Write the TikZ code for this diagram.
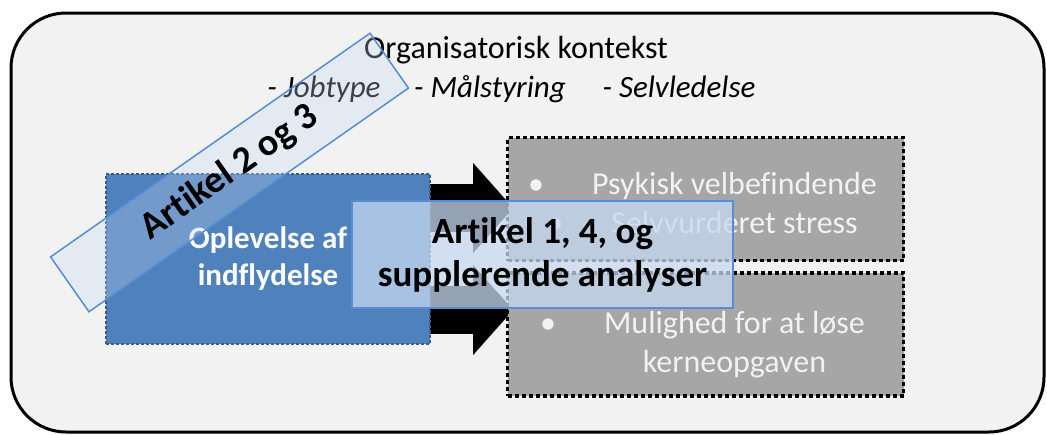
\documentclass[tikz,border=0pt]{standalone}
\usepackage{fontspec}
\setmainfont{Carlito}[Ligatures=NoCommon]
\usetikzlibrary{arrows.meta, positioning, calc}
\definecolor{ctxgray}{RGB}{242,242,242}
\definecolor{inflblue}{RGB}{79,129,189}
\definecolor{infldark}{RGB}{56,93,138}
\definecolor{outgray}{RGB}{166,166,166}
\definecolor{artfill}{RGB}{198,217,241}
\definecolor{artline}{RGB}{85,142,213}
\tikzset{
  ctxbox/.style={draw=black, line width=3pt, rounded corners=55pt, fill=ctxgray,
                 inner sep=0pt},
  ctxtext/.style={font=\fontsize{32}{38}\selectfont, inner sep=0pt, anchor=base},
  infl/.style={fill=inflblue, draw=infldark, line width=2.5pt, dash pattern=on 3pt off 2pt,
               text=white, align=center, inner sep=0pt,
               font=\fontsize{31}{37}\selectfont\bfseries},
  outcome/.style={fill=outgray, draw=black, line width=3.5pt, dash pattern=on 4pt off 3pt,
                  inner sep=0pt, minimum width=396pt, minimum height=123pt},
  outtxt/.style={text=ctxgray, align=center, inner sep=0pt,
                 font=\fontsize{32}{39}\selectfont},
  artbox/.style={draw=artline, line width=1.5pt, fill=artfill, align=center, inner sep=0pt,
                 text opacity=1, font=\fontsize{37}{43}\selectfont\bfseries},
  bigarrow/.style={line width=48pt, black,
                   -{Triangle[length=40pt, width=90pt, line width=0.01pt]}},
}
\newcommand{\bul}{\makebox[0pt][r]{\textbullet\hspace{48pt}}}

\begin{document}
\begin{tikzpicture}[x=1pt, y=-1pt]
  \useasboundingbox (0,0) rectangle (1047,434);

  % organisational context
  \node[ctxbox, minimum width=1033pt, minimum height=419pt] (ctx) at (527.5,222.5) {};
  \node[ctxtext] (title) at (516,58) {Organisatorisk kontekst};
  \node[ctxtext, font=\fontsize{31}{37}\selectfont\itshape] (job) at (324,97) {- Jobtype};
  \node[ctxtext, font=\fontsize{31}{37}\selectfont\itshape] (maal) at (490,97) {- Målstyring};
  \node[ctxtext, font=\fontsize{31}{37}\selectfont\itshape] (selv) at (679,97) {- Selvledelse};

  % arrows
  \coordinate (srcA) at (430,208);
  \coordinate (srcB) at (430,310);
  \coordinate (tipA) at (513,208);
  \coordinate (tipB) at (513,310);
  \draw[bigarrow] (srcA) -- (tipA);
  \draw[bigarrow] (srcB) -- (tipB);

  % outcomes
  \node[outcome] (psyk) at (705.5,199) {};
  \node[outtxt] (psyktxt) at ([xshift=29pt, yshift=-4pt]psyk.center)
      {\bul Psykisk velbefindende\\\bul Selvvurderet stress};
  \node[outcome] (muli) at (705.5,334.5) {};
  \node[outtxt] (mulitxt) at ([xshift=29pt, yshift=-10pt]muli.center)
      {\bul Mulighed for at løse\\kerneopgaven};

  % influence
  \node[infl, minimum width=324pt, minimum height=170pt] (infl) at (268,259)
      {Oplevelse af\\indflydelse};

  % articles
  \node[artbox, rotate=35, minimum width=390pt, minimum height=67pt, fill opacity=0.3,
        font=\fontsize{38}{44}\selectfont\bfseries]
      (art23) at (229.5,172.5) {Artikel 2 og 3};
  \node[artbox, minimum width=381pt, minimum height=107pt, fill opacity=0.75]
      (art14) at (542.5,254.5) {Artikel 1, 4, og\\supplerende analyser};
\end{tikzpicture}
\end{document}
